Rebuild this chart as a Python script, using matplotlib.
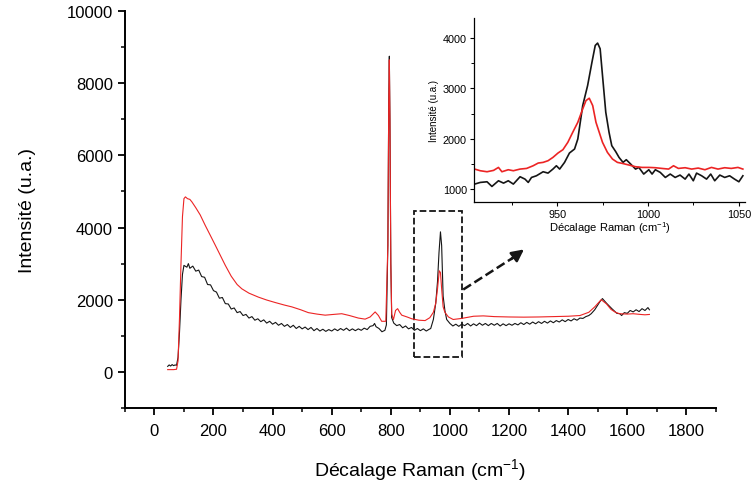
import matplotlib.pyplot as plt
from matplotlib.patches import Rectangle
from matplotlib.ticker import MultipleLocator

plt.rcParams['font.family'] = ['Liberation Sans', 'DejaVu Sans']
plt.rcParams['mathtext.default'] = 'regular'

# Main spectrum, black curve (Raman shift in cm-1, intensity in a.u.)
black_x = [45, 50, 55, 60, 65, 70, 75, 80, 85, 90, 95, 100, 110, 115, 120, 130, 140, 150,
           160, 170, 180, 190, 200, 210, 220, 230, 240, 250, 260, 270, 280, 290, 300,
           310, 320, 330, 340, 350, 360, 370, 380, 390, 400, 410, 420, 430, 440, 450,
           460, 470, 480, 490, 500, 510, 520, 530, 540, 550, 560, 570, 580, 590, 600,
           610, 620, 630, 640, 650, 660, 670, 680, 690, 700, 710, 720, 730, 740, 745,
           750, 760, 770, 780, 785, 790, 793, 795, 797, 800, 803, 810, 820, 830, 840,
           850, 860, 870, 880, 890, 900, 910, 920, 930, 935, 944, 952, 958, 963, 968,
           972, 977, 983, 989, 1000, 1010, 1020, 1030, 1040, 1050, 1060, 1070, 1080,
           1090, 1100, 1110, 1120, 1130, 1140, 1150, 1160, 1170, 1180, 1190, 1200, 1210,
           1220, 1230, 1240, 1250, 1260, 1270, 1280, 1290, 1300, 1310, 1320, 1330, 1340,
           1350, 1360, 1370, 1380, 1390, 1400, 1410, 1420, 1430, 1440, 1450, 1460, 1470,
           1478, 1490, 1500, 1508, 1516, 1530, 1548, 1565, 1575, 1581, 1590, 1600, 1610,
           1620, 1630, 1640, 1650, 1660, 1670, 1675]
black_y = [150, 190, 160, 200, 170, 190, 180, 400, 1100, 2000, 2700, 2950, 2900, 3000,
           2870, 2930, 2790, 2820, 2640, 2620, 2420, 2410, 2250, 2210, 2040, 2060, 1890,
           1880, 1740, 1770, 1640, 1670, 1560, 1590, 1490, 1530, 1430, 1470, 1390, 1440,
           1350, 1400, 1320, 1370, 1290, 1340, 1260, 1310, 1230, 1290, 1200, 1260, 1190,
           1240, 1170, 1230, 1140, 1200, 1130, 1180, 1120, 1170, 1130, 1190, 1140, 1200,
           1150, 1210, 1140, 1190, 1140, 1190, 1150, 1210, 1170, 1260, 1280, 1340, 1250,
           1200, 1110, 1150, 1300, 3500, 7500, 8750, 7000, 3000, 1500, 1350, 1280, 1310,
           1220, 1270, 1190, 1230, 1150, 1200, 1140, 1190, 1130, 1180, 1200, 1450, 1900,
           2500, 3300, 3880, 3500, 2100, 1700, 1450, 1340, 1270, 1320, 1260, 1320, 1280,
           1340, 1270, 1330, 1280, 1350, 1290, 1340, 1280, 1340, 1290, 1340, 1270, 1330,
           1280, 1330, 1290, 1340, 1300, 1360, 1310, 1370, 1320, 1380, 1330, 1390, 1340,
           1400, 1350, 1410, 1360, 1420, 1380, 1440, 1390, 1450, 1410, 1470, 1430, 1490,
           1480, 1530, 1560, 1610, 1720, 1850, 1950, 2030, 1900, 1750, 1620, 1610, 1560,
           1640, 1620, 1700, 1660, 1720, 1670, 1750, 1700, 1780, 1720]

# Main spectrum, red curve
red_x = [45, 55, 65, 75, 80, 85, 90, 95, 100, 105, 112, 120, 127, 140, 155, 172, 190,
         206, 223, 240, 260, 280, 296, 320, 352, 380, 409, 440, 465, 495, 521, 550, 578,
         605, 634, 660, 690, 713, 730, 747, 758, 769, 783, 790, 793, 795, 797, 800, 803,
         809, 816, 823, 830, 837, 855, 871, 895, 916, 932, 944, 952, 958, 964, 968, 972,
         977, 983, 995, 1011, 1040, 1080, 1113, 1150, 1200, 1250, 1300, 1350, 1400,
         1440, 1470, 1490, 1512, 1530, 1545, 1560, 1574, 1600, 1620, 1645, 1660, 1675]
red_y = [60, 60, 60, 70, 300, 1500, 3000, 4300, 4800, 4850, 4800, 4780, 4710, 4550, 4350,
         4060, 3770, 3510, 3230, 2950, 2650, 2420, 2300, 2180, 2070, 1990, 1920, 1850,
         1800, 1720, 1640, 1600, 1570, 1590, 1610, 1560, 1490, 1460, 1520, 1660, 1560,
         1400, 1400, 3500, 7500, 8650, 7000, 3000, 1600, 1450, 1700, 1750, 1650, 1570,
         1520, 1470, 1430, 1420, 1500, 1650, 1900, 2300, 2800, 2750, 2300, 1800, 1650,
         1520, 1450, 1480, 1540, 1550, 1530, 1520, 1515, 1520, 1530, 1540, 1560, 1650,
         1800, 2000, 1880, 1730, 1650, 1610, 1600, 1610, 1590, 1580, 1590]

# Inset (zoom on the 970 cm-1 band)
ins_black_x = [904.5, 907.6, 911.3, 914, 917.6, 920.4, 923, 925.8, 929.5, 932.2, 934,
               935.8, 938.5, 942.2, 944.9, 947.6, 949.5, 951.3, 954, 956.7, 959.5, 961.3,
               964, 966.7, 969.1, 970.9, 972.2, 973.6, 974.9, 976.7, 978.5, 980, 982.2,
               984, 986.2, 988, 990.4, 993.1, 994.9, 997.6, 1000.4, 1002.2, 1004, 1006.7,
               1009.5, 1012.2, 1014.9, 1017.6, 1020.4, 1022.5, 1024.9, 1026.7, 1029.5,
               1032.2, 1034.5, 1036.7, 1039.5, 1042.2, 1044.9, 1047.6, 1050, 1052.2]
ins_black_y = [1100, 1133, 1146, 1053, 1166, 1119, 1166, 1100, 1246, 1199, 1133, 1232,
               1265, 1345, 1318, 1398, 1464, 1398, 1531, 1717, 1796, 1995, 2659, 3057,
               3522, 3853, 3900, 3787, 3256, 2526, 2128, 1863, 1743, 1630, 1531, 1584,
               1498, 1398, 1431, 1299, 1385, 1299, 1385, 1332, 1232, 1299, 1232, 1279,
               1199, 1299, 1166, 1318, 1265, 1199, 1299, 1166, 1279, 1232, 1265, 1199,
               1146, 1265]
ins_red_x = [904.5, 907.6, 911.3, 914.9, 917.6, 919.5, 923, 925.8, 929.5, 933.1, 936.7,
             939.5, 942.2, 944.9, 947.6, 950.4, 953.1, 955.8, 958.5, 961.3, 964, 965.8,
             967.6, 969.5, 971.3, 973.1, 974.9, 977.6, 980.4, 983.1, 985.8, 989.5, 993.1,
             996.7, 1000.4, 1004, 1007.6, 1011.3, 1014, 1016.7, 1020.4, 1024, 1027.6,
             1031.3, 1034.9, 1038.5, 1042.2, 1045.8, 1049.5, 1052.2]
ins_red_y = [1398, 1365, 1345, 1372, 1431, 1345, 1385, 1365, 1398, 1411, 1464, 1518,
             1531, 1564, 1630, 1717, 1783, 1929, 2128, 2327, 2593, 2758, 2805, 2659,
             2327, 2128, 1929, 1730, 1597, 1531, 1511, 1478, 1445, 1431, 1431, 1425,
             1411, 1398, 1464, 1411, 1425, 1398, 1418, 1385, 1431, 1398, 1425, 1411,
             1431, 1398]

black = '#151515'
red = '#ec2424'

fig = plt.figure(figsize=(7.52, 4.85), dpi=100)
ax = fig.add_axes([0.166, 0.157, 0.786, 0.818])
ax.plot(black_x, black_y, color=black, lw=0.8)
ax.plot(red_x, red_y, color=red, lw=0.8)

ax.set_xlim(-100, 1900)
ax.set_ylim(-1000, 10000)
ax.xaxis.set_major_locator(MultipleLocator(200))
ax.xaxis.set_minor_locator(MultipleLocator(100))
ax.yaxis.set_major_locator(MultipleLocator(2000))
ax.yaxis.set_minor_locator(MultipleLocator(1000))
for s in ['top', 'right']:
    ax.spines[s].set_visible(False)
for s in ['left', 'bottom']:
    ax.spines[s].set_linewidth(1.4)
ax.tick_params(which='major', direction='out', length=5, width=1.3, labelsize=12)
ax.tick_params(axis='x', which='major', pad=6)
ax.tick_params(which='minor', direction='out', length=3, width=1.1)
ax.set_xlabel('Décalage Raman (cm$^{-1}$)', fontsize=14, labelpad=13)
ax.set_ylabel('Intensité (u.a.)', fontsize=14, labelpad=22)

# dashed box around the 970 band and arrow to the inset
ax.add_patch(Rectangle((880, 420), 160, 4030, fill=False, ls='--', lw=1.3, ec=black))
ax.plot([1045, 1215], [2280, 3170], ls='--', lw=1.8, color=black)
ax.annotate('', xy=(1258, 3440), xytext=(1200, 3080),
            arrowprops=dict(arrowstyle='-|>', color=black, lw=1.8, mutation_scale=18))

# inset
axi = fig.add_axes([0.630, 0.581, 0.361, 0.380])
axi.plot(ins_black_x, ins_black_y, color=black, lw=1.2)
axi.plot(ins_red_x, ins_red_y, color=red, lw=1.2)
axi.set_xlim(904, 1053.5)
axi.set_ylim(740, 4400)
axi.xaxis.set_major_locator(MultipleLocator(50))
axi.xaxis.set_minor_locator(MultipleLocator(25))
axi.yaxis.set_major_locator(MultipleLocator(1000))
axi.yaxis.set_minor_locator(MultipleLocator(500))
for s in ['top', 'right']:
    axi.spines[s].set_visible(False)
for s in ['left', 'bottom']:
    axi.spines[s].set_linewidth(0.9)
axi.tick_params(which='major', direction='out', length=3, width=0.8, labelsize=7.8, pad=2)
axi.tick_params(which='minor', direction='out', length=2, width=0.7)
axi.set_xlabel('Décalage Raman (cm$^{-1}$)', fontsize=8, labelpad=0)
axi.set_ylabel('Intensité (u.a.)', fontsize=7, labelpad=3)

fig.savefig('out.png', dpi=100)
